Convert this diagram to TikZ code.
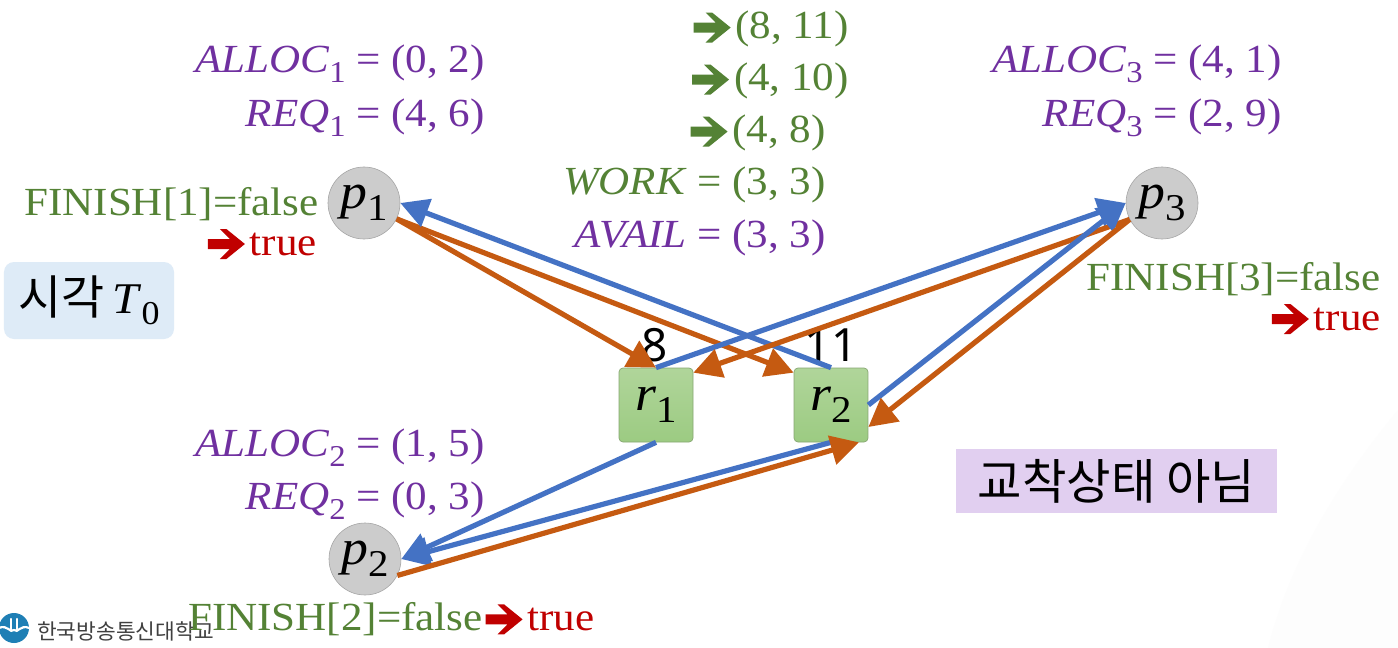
\documentclass[tikz,border=0pt]{standalone}
\usepackage{fontspec}
\usepackage{graphicx}
\setmainfont[FakeStretch=1.08]{Liberation Serif}
\newfontfamily\krfont{Noto Sans CJK KR}
\newfontfamily\numfont{Noto Sans}
\usetikzlibrary{arrows.meta,calc,shadings}
\definecolor{cpurple}{HTML}{7030A0}
\definecolor{cgreen}{HTML}{548235}
\definecolor{cred}{HTML}{C00000}
\definecolor{cblue}{HTML}{4472C4}
\definecolor{corange}{HTML}{C55A11}
\definecolor{cboxa}{HTML}{B0D59A}
\definecolor{cboxb}{HTML}{9CCB82}
\definecolor{ctbox}{HTML}{DEEBF7}
\definecolor{cnbox}{HTML}{E1CFF0}
\definecolor{clogo}{HTML}{1F7FB5}
\newcommand\subs[1]{\raisebox{-0.25em}{\scalebox{.76}{\normalfont #1}}}
\newcommand\arr[1]{\tikz[x=1bp,y=1bp,baseline=-11bp]{\fill[#1] (0,-5) -- (22,-5) -- (12,-15) -- (18.5,-15) -- (37,0) -- (18.5,15) -- (12,15) -- (22,5) -- (0,5) -- cycle;}\hspace{5bp}}
\newcommand\fs[1]{\fontsize{#1}{#1}\selectfont}
\tikzset{
 lbl/.style={inner sep=0pt,font=\fs{40}},
 purp/.style={lbl,text=cpurple,anchor=east},
 grn/.style={lbl,text=cgreen,anchor=east},
 proc/.style={circle,minimum size=72bp,inner sep=0pt,draw=black!35,line width=.6bp,fill=black!20,font=\fs{50}\itshape},
 res/.style={rectangle,rounded corners=4bp,minimum size=74bp,inner sep=0pt,draw=cgreen!70,line width=.7bp,top color=cboxa,bottom color=cboxb,font=\fs{50}\itshape},
 num/.style={inner sep=0pt,font=\numfont\fs{46},text=black},
 tipped/.style={line width=5.2bp,-{Triangle[length=28bp,width=29bp]}},
 req/.style={draw=corange,tipped},
 asg/.style={draw=cblue,tipped},
}
\begin{document}
\begin{tikzpicture}[x=1bp,y=-1bp]
\useasboundingbox (0,0) rectangle (1398,648);
\fill[white] (0,0) rectangle (1398,648);
\fill[black!0.7] (1398,410) .. controls (1340,480) and (1290,560) .. (1268,648) -- (1398,648) -- cycle;
% notes
\node[rounded corners=10bp,fill=ctbox,minimum width=170bp,minimum height=77bp,inner sep=0pt] (tbox) at (89,300.5) {\raisebox{-.06em}{\fs{47}\krfont 시각}\hspace{8bp}\fs{44}\textit{T}\subs{0}};
\node[fill=cnbox,minimum width=321bp,minimum height=64bp,inner sep=0pt] (nbox) at (1116.5,481) {\krfont\fs{48.5}교착상태 아님};
% logo
\node[circle,fill=clogo,minimum size=30bp,inner sep=0pt] (logo) at (14,628) {};
\draw[white,line width=2.2bp,line cap=round] (logo.180) .. controls (8,624) and (10,634) .. (14,630) .. controls (18,634) and (20,624) .. (logo.0);
\draw[white,line width=2.2bp,line cap=round] (11,619) -- (11,630) (17,619) -- (17,630);
\node[anchor=west,inner sep=0pt,font=\krfont\fs{21.5},text=black!75] (logot) at (37,631) {한국방송통신대학교};
% nodes
\node[proc] (p1) at (364,203) {\raisebox{-.1em}{p\subs{1}}};
\node[proc] (p2) at (365,559) {\raisebox{-.1em}{p\subs{2}}};
\node[proc] (p3) at (1162,203) {\raisebox{-.1em}{p\subs{3}}};
\node[res] (r1) at (656,405) {\raisebox{-.1em}{r\subs{1}}};
\node[res] (r2) at (831,405) {\raisebox{-.1em}{r\subs{2}}};
\node[num] (n8) at (655,345) {8};
\node[num] (n11) at (831,345) {11};
% edges
\draw[req] (p1.-26) -- (r1.north);
\draw[req] (p1.-26) -- ([yshift=-5bp]r2.north west);
\draw[asg] (r2.north) -- (p1.0);
\draw[asg] (r1.north) -- (p3.180);
\draw[req] (p3.-153) -- ([yshift=-5bp]r1.north east);
\draw[asg] (r2.east) -- (p3.180);
\draw[req] (p3.-153) -- ([yshift=-22bp]r2.east);
\draw[asg] (r1.south) -- (p2.0);
\draw[asg] (r2.south) -- (p2.0);
\draw[req] (p2.-27) -- ([xshift=28bp]r2.south);
% labels
\node[purp] (a1) at (485,64) {\textit{ALLOC}\subs{1} = (0, 2)};
\node[purp] (q1) at (485,118) {\textit{REQ}\subs{1} = (4, 6)};
\node[purp] (a3) at (1282,64) {\textit{ALLOC}\subs{3} = (4, 1)};
\node[purp] (q3) at (1282,118) {\textit{REQ}\subs{3} = (2, 9)};
\node[purp] (a2) at (485,448) {\textit{ALLOC}\subs{2} = (1, 5)};
\node[purp] (q2) at (485,501) {\textit{REQ}\subs{2} = (0, 3)};
\node[purp] (av) at (826,238) {\textit{AVAIL} = (3, 3)};
\node[grn] (wk) at (826,185) {\textit{WORK} = (3, 3)};
\node[grn] (w1) at (826,133) {\arr{cgreen}(4, 8)};
\node[grn] (w2) at (849,81) {\arr{cgreen}(4, 10)};
\node[grn] (w3) at (849,29) {\arr{cgreen}(8, 11)};
\node[grn] (f1) at (319,204) {FINISH[1]=false};
\node[lbl,anchor=east] (t1) at (317,244) {\arr{cred}{\color{cred}true}};
\node[grn] (f3) at (1381,279) {FINISH[3]=false};
\node[lbl,anchor=east] (t3) at (1381,319) {\arr{cred}{\color{cred}true}};
\node[lbl,anchor=west] (f2) at (188,619) {{\color{cgreen}FINISH[2]=false}\hspace{3bp}\arr{cred}{\color{cred}true}};
\end{tikzpicture}
\end{document}
